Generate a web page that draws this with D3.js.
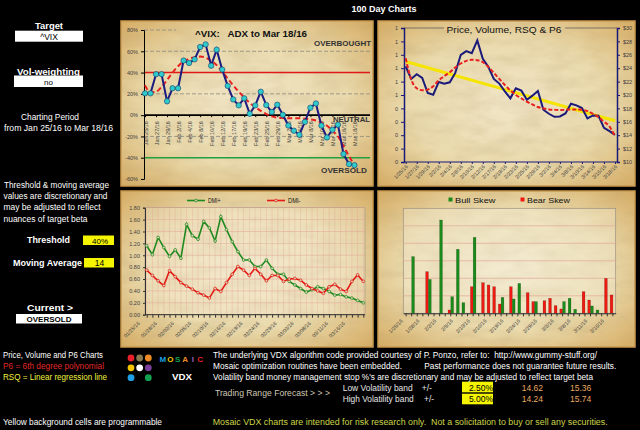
<!DOCTYPE html>
<html>
<head>
<meta charset="utf-8">
<script src="https://d3js.org/d3.v7.min.js"></script>
<style>
  body { margin: 0; background: #000; }
  svg text { font-family: "Liberation Sans", Arial, sans-serif; white-space: pre; }
</style>
</head>
<body>
<svg id="chart" width="640" height="430"></svg>
<script>
// ---- data ----
var days = ["1/25","1/26","1/27","1/28","1/29","2/1","2/2","2/3","2/4","2/5","2/8","2/9","2/10","2/11","2/12",
            "2/16","2/17","2/18","2/19","2/22","2/23","2/24","2/25","2/26","2/29","3/1","3/2","3/3","3/4",
            "3/7","3/8","3/9","3/10","3/11","3/14","3/15","3/16","3/17","3/18"];

// ADX oscillator (%) and its moving average
var adx = [20.5, 20.5, 38.5, 38.5, 13, 25.3, 25.3, 51.3, 49, 52.4, 64, 66.5, 46.5, 61.5, 42.8, 27.5, 14.8, 9.2, 15.8, 1.3,
           9.2, 22, 9.5, 3, 9.8, 0.3, -9.8, -14.6, -18.4, -6.3, 7, 11, -9.8, -21, -13.7, -9, -36.5, -46, -47];
var adxAvg = [28, 21.5, 22, 26.5, 33, 40, 46, 50.5, 53, 54.5, 55, 54, 51, 47, 41, 34.5, 28, 22, 16.5, 11.5,
              7.5, 4, 1, -1.2, -2.3, -2.8, -3, -3, -3, -3.3, -4, -5, -7, -10, -14.5, -20, -29, -38.5, -47];
var adxTicks = ["Jan 25/16","Jan 27/16","Jan 29/16","Feb 2/16","Feb 4/16","Feb 8/16","Feb 10/16","Feb 12/16","Feb 17/16","Feb 19/16",
                "Feb 23/16","Feb 25/16","Feb 29/16","Mar 2/16","Mar 4/16","Mar 8/16","Mar 10/16","Mar 14/16","Mar 16/16","Mar 18/16"];
var adxLevels = [40, 0, -40];

// price, 6th degree polynomial, regression end points
var price = [24.25, 22.4, 23.1, 22.55, 20.3, 20.05, 21.95, 21.7, 21.9, 23.3, 26, 26.55, 26.25, 28.15, 25.4, 24.2, 22.4, 21.7, 20.55, 19.5,
             21, 20.65, 19.3, 19.9, 20.6, 17.8, 17.2, 16.75, 16.8, 17.25, 18.7, 18.45, 18.05, 16.5, 16.95, 16.9, 15.1, 14.6, 14.05];
var p6 = [25.5, 22.3, 21.0, 20.7, 20.8, 21.3, 22.2, 22.8, 23.4, 24.1, 24.7, 25.1, 25.25, 25.2, 24.9, 24.2, 23.3, 22.4, 21.5, 20.7,
          20.0, 19.5, 19.0, 18.6, 18.2, 18.0, 17.85, 17.8, 17.75, 17.8, 17.85, 17.85, 17.8, 17.6, 17.2, 16.7, 16.0, 15.3, 13.8];
var rsqEnds = [25.0, 16.15];
var priceTicks = ["1/25/16","1/27/16","1/29/16","2/2/16","2/4/16","2/8/16","2/10/16","2/12/16","2/17/16","2/19/16",
                  "2/23/16","2/25/16","2/29/16","3/2/16","3/4/16","3/8/16","3/10/16","3/14/16","3/16/16","3/18/16"];

// DMI
var dmiPlus = [1.16, 1.01, 1.30, 1.13, 0.98, 1.09, 0.95, 1.52, 1.33, 1.27, 1.57, 1.46, 1.24, 1.65, 1.43, 1.23, 1.06, 0.92, 0.92, 0.81,
               0.81, 0.92, 0.78, 0.68, 0.68, 0.56, 0.50, 0.44, 0.38, 0.42, 0.47, 0.44, 0.39, 0.33, 0.34, 0.30, 0.28, 0.24, 0.20];
var dmiMinus = [0.75, 0.66, 0.57, 0.49, 0.74, 0.64, 0.54, 0.48, 0.43, 0.37, 0.33, 0.28, 0.44, 0.39, 0.54, 0.68, 0.81, 0.75, 0.66, 0.78,
                0.68, 0.57, 0.66, 0.66, 0.56, 0.60, 0.61, 0.58, 0.50, 0.44, 0.40, 0.36, 0.47, 0.51, 0.43, 0.39, 0.56, 0.67, 0.56];
var dmiTicks = ["01/25/16","01/28/16","02/02/16","02/05/16","02/10/16","02/16/16","02/19/16","02/24/16","02/29/16",
                "03/03/16","03/08/16","03/11/16","03/16/16"];

// skew bars (38 sessions)
var bullSkew = [0, 3.24, 0, 0, 1.94, 0, 5.33, 0, 0.95, 3.66, 0.61, 0, 4.34, 0, 0, 0, 0, 0.91, 0, 0.82,
                1.71, 0, 0, 0.67, 0, 0, 0, 0, 0.67, 0.86, 0.23, 0, 0, 0.42, 0.19, 0, 0, 0];
var bearSkew = [0, 0, 0, 0, 2.38, 0, 0, 0, 0.19, 0, 0, 0, 1.52, 0, 1.75, 1.62, 1.52, 0.53, 0, 1.52,
                0, 0, 1.18, 0.67, 0, 0.72, 0.86, 0.44, 0.25, 0, 0, 0, 1.24, 0.76, 0, 0, 2.0, 1.05];
var skewTicks = ["1/25/16","1/28/16","2/2/16","2/5/16","2/10/16","2/16/16","2/19/16","2/24/16","2/29/16",
                 "3/3/16","3/8/16","3/11/16","3/16/16"];

var logoCells = [[0,0,"#e8202a"],[1,0,"#8a7a50"],[2,0,"#f08a24"],[0,1,"#f5c400"],[1,1,"#ffffff"],[2,1,"#7a3f9a"],
                 [0,2,"#1ea0e6"],[2,2,"#10a050"]];
var mosaicColors = ["#1ea0e6","#f5c400","#10a050","#f08a24","#9a5fc0","#e8202a"];

// ---- drawing ----
var svg = d3.select("#chart");
var defs = svg.append("defs");

var rg = defs.append("radialGradient").attr("id", "parch").attr("r", "72%");
rg.append("stop").attr("offset", "0%").attr("stop-color", "#f1e6c8");
rg.append("stop").attr("offset", "55%").attr("stop-color", "#eadaac");
rg.append("stop").attr("offset", "100%").attr("stop-color", "#d5aa60");

var grain = defs.append("filter").attr("id", "grain").attr("x", 0).attr("y", 0).attr("width", "100%").attr("height", "100%");
grain.append("feTurbulence").attr("type", "fractalNoise").attr("baseFrequency", "0.035 0.09").attr("numOctaves", 3).attr("seed", 4);
grain.append("feColorMatrix").attr("type", "matrix")
    .attr("values", "0 0 0 0 0.5  0 0 0 0 0.36  0 0 0 0 0.16  0.45 0 0 0 -0.15");

function put(g, x, y, s, o) {
    o = o || {};
    var t = g.append("text").attr("x", x).attr("y", y).text(s)
        .attr("font-size", o.size || 8.5)
        .attr("fill", o.fill || "#fff")
        .attr("font-weight", o.bold ? "bold" : null)
        .attr("text-anchor", o.anchor || "start");
    if (o.len) t.attr("textLength", o.len).attr("lengthAdjust", "spacingAndGlyphs");
    return t;
}

function styleAxis(g, col, size) {
    g.selectAll(".domain").attr("stroke", col);
    g.selectAll(".tick line").attr("stroke", col);
    g.selectAll(".tick text").attr("fill", "#404040").attr("font-size", size)
        .attr("font-family", "Liberation Sans, Arial, sans-serif");
}

// panels
var panels = [[121, 21, 252, 165], [378, 21, 257, 165], [121, 191, 252, 156], [378, 191, 257, 156]];
panels.forEach(function(p) {
    svg.append("rect").attr("x", p[0]).attr("y", p[1]).attr("width", p[2]).attr("height", p[3])
        .attr("fill", "url(#parch)").attr("stroke", "#c9994c").attr("stroke-width", 1.5);
    svg.append("rect").attr("x", p[0]).attr("y", p[1]).attr("width", p[2]).attr("height", p[3])
        .attr("fill", "#000").attr("filter", "url(#grain)");
});

put(svg, 384, 12, "100 Day Charts", {bold: true, size: 9, anchor: "middle"});

// ===== ADX chart =====
var xA = d3.scalePoint().domain(d3.range(days.length)).range([145, 354.5]);
var yA = d3.scaleLinear().domain([-60, 80]).range([179, 30]);
var gA = svg.append("g");

gA.selectAll("line.grid").data([80, 60, 20, -20]).join("line")
    .attr("x1", 144).attr("x2", function(d) { return d === 80 ? 176 : 370; })
    .attr("y1", yA).attr("y2", yA)
    .attr("stroke", "#8a8a80").attr("stroke-width", 0.8).attr("stroke-dasharray", "4,2");

gA.selectAll("line.level").data(adxLevels).join("line")
    .attr("x1", 144).attr("x2", 370).attr("y1", yA).attr("y2", yA)
    .attr("stroke", function(d) { return d > 0 ? "#e01818" : d < 0 ? "#20a040" : "#000"; })
    .attr("stroke-width", 1.6);

var yAxisA = gA.append("g").attr("transform", "translate(144,0)")
    .call(d3.axisLeft(yA).tickValues(d3.range(-60, 81, 20)).tickSize(3).tickFormat(function(d) { return d + "%"; }));
styleAxis(yAxisA, "#000", 5.5);

var xAxisA = gA.append("g").attr("transform", "translate(0," + yA(0) + ")")
    .call(d3.axisBottom(xA).tickValues(d3.range(0, days.length, 2)).tickSize(2).tickSizeOuter(0)
        .tickFormat(function(d) { return adxTicks[d / 2]; }));
xAxisA.select(".domain").remove();
styleAxis(xAxisA, "#000", 5.5);
xAxisA.selectAll(".tick text").attr("x", 0).attr("y", 0).attr("dy", 0)
    .attr("text-anchor", "end").attr("transform", "translate(2,6) rotate(-90)");

gA.append("path").datum(adxAvg)
    .attr("d", d3.line().curve(d3.curveMonotoneX).x(function(d, i) { return xA(i); }).y(yA))
    .attr("fill", "none").attr("stroke", "#e82020").attr("stroke-width", 2).attr("stroke-dasharray", "5,3");
gA.append("path").datum(adx)
    .attr("d", d3.line().x(function(d, i) { return xA(i); }).y(yA))
    .attr("fill", "none").attr("stroke", "#1c1c80").attr("stroke-width", 2);
gA.selectAll("circle").data(adx).join("circle")
    .attr("cx", function(d, i) { return xA(i); }).attr("cy", yA).attr("r", 2.7)
    .attr("fill", "#2fcaca").attr("stroke", "#1a3a6a").attr("stroke-width", 0.6);

put(gA, 251, 37, "^VIX:   ADX to Mar 18/16", {bold: true, size: 9, fill: "#111", anchor: "middle", len: 112});
put(gA, 371, 46, "OVERBOUGHT", {bold: true, size: 7.5, fill: "#333", anchor: "end", len: 57});
put(gA, 370, 121.5, "NEUTRAL", {bold: true, size: 7.5, fill: "#333", anchor: "end", len: 37});
put(gA, 367, 173, "OVERSOLD", {bold: true, size: 7.5, fill: "#333", anchor: "end", len: 46});

// ===== Price chart =====
var xP = d3.scalePoint().domain(d3.range(days.length)).range([405.7, 615]);
var yP = d3.scaleLinear().domain([10, 30]).range([162, 28]);
var yV = d3.scaleLinear().domain([0, 1]).range([162, 28]);
var gP = svg.append("g");

gP.append("line").attr("x1", 404).attr("x2", 444).attr("y1", 28).attr("y2", 28).attr("stroke", "#555").attr("stroke-width", 0.7);
gP.append("line").attr("x1", 565).attr("x2", 617).attr("y1", 28).attr("y2", 28).attr("stroke", "#555").attr("stroke-width", 0.7);

var lAxP = gP.append("g").attr("transform", "translate(404,0)")
    .call(d3.axisLeft(yV).ticks(10).tickSize(3).tickFormat(function(d) { return Math.round(d); }));
styleAxis(lAxP, "#1a1a7a", 5.5);
lAxP.select(".domain").attr("stroke-width", 1.5);
var rAxP = gP.append("g").attr("transform", "translate(617,0)")
    .call(d3.axisRight(yP).tickValues(d3.range(10, 31, 2)).tickSize(3).tickFormat(function(d) { return "$" + d; }));
styleAxis(rAxP, "#1a1a7a", 5.5);
rAxP.select(".domain").attr("stroke-width", 1.5);

gP.append("line").attr("x1", 404).attr("x2", 617).attr("y1", 162).attr("y2", 162).attr("stroke", "#1a1a7a").attr("stroke-width", 1.2);
var xAxP = gP.append("g").attr("transform", "translate(0,162)")
    .call(d3.axisBottom(xP).tickValues(d3.range(0, days.length, 2)).tickSize(2).tickSizeOuter(0)
        .tickFormat(function(d) { return priceTicks[d / 2]; }));
xAxP.select(".domain").remove();
styleAxis(xAxP, "#1a1a7a", 5.2);
xAxP.selectAll(".tick text").attr("x", 0).attr("y", 0).attr("dy", 0)
    .attr("text-anchor", "end").attr("transform", "translate(2,5) rotate(-45)");

gP.append("path").datum(rsqEnds)
    .attr("d", d3.line().x(function(d, i) { return xP(i * (days.length - 1)); }).y(yP))
    .attr("fill", "none").attr("stroke", "#f5e400").attr("stroke-width", 3);
gP.append("path").datum(price)
    .attr("d", d3.line().x(function(d, i) { return xP(i); }).y(yP))
    .attr("fill", "none").attr("stroke", "#1a1a7a").attr("stroke-width", 2);
gP.append("path").datum(p6)
    .attr("d", d3.line().curve(d3.curveMonotoneX).x(function(d, i) { return xP(i); }).y(yP))
    .attr("fill", "none").attr("stroke", "#e82020").attr("stroke-width", 2).attr("stroke-dasharray", "4,2");

put(gP, 504, 32.5, "Price, Volume, RSQ & P6", {size: 9, fill: "#111", anchor: "middle", len: 115});

// ===== DMI chart =====
var xD = d3.scalePoint().domain(d3.range(days.length)).range([146.7, 363.3]);
var yD = d3.scaleLinear().domain([0, 1.8]).range([314.7, 207.7]);
var gD = svg.append("g");

gD.append("rect").attr("x", 145).attr("y", 207.7).attr("width", 220).attr("height", 107)
    .attr("fill", "rgba(250,244,228,0.25)").attr("stroke", "#9a8f80").attr("stroke-width", 0.6);
gD.selectAll("line.vg").data(d3.range(days.length)).join("line")
    .attr("x1", xD).attr("x2", xD).attr("y1", 207.7).attr("y2", 314.7)
    .attr("stroke", "#e2a898").attr("stroke-width", 0.5).attr("opacity", 0.8);
gD.selectAll("line.hg").data(d3.range(1, 10).map(function(i) { return i * 0.2; })).join("line")
    .attr("x1", 145).attr("x2", 365).attr("y1", yD).attr("y2", yD)
    .attr("stroke", "#e2a898").attr("stroke-width", 0.6).attr("opacity", 0.9);

var yAxD = gD.append("g").attr("transform", "translate(145,0)")
    .call(d3.axisLeft(yD).tickValues(d3.range(10).map(function(i) { return i * 0.2; })).tickSize(2)
        .tickFormat(d3.format(".2f")));
styleAxis(yAxD, "#333", 5.5);
var xAxD = gD.append("g").attr("transform", "translate(0,314.7)")
    .call(d3.axisBottom(xD).tickValues(d3.range(days.length)).tickSize(3).tickSizeOuter(0)
        .tickFormat(function(d) { return d % 3 === 0 ? dmiTicks[d / 3] : ""; }));
xAxD.select(".domain").attr("d", "M145,0H365");
styleAxis(xAxD, "#333", 5.2);
xAxD.selectAll(".tick text").attr("x", 0).attr("y", 0).attr("dy", 0)
    .attr("text-anchor", "end").attr("transform", "translate(-7,9) rotate(-45)");

var dmiSeries = [{v: dmiPlus, c: "#1f8a1f"}, {v: dmiMinus, c: "#e41a14"}];
dmiSeries.forEach(function(s) {
    gD.append("path").datum(s.v)
        .attr("d", d3.line().x(function(d, i) { return xD(i); }).y(yD))
        .attr("fill", "none").attr("stroke", s.c).attr("stroke-width", 1.6);
    gD.append("g").selectAll("circle").data(s.v).join("circle")
        .attr("cx", function(d, i) { return xD(i); }).attr("cy", yD).attr("r", 1.4)
        .attr("fill", "#d9d0b0").attr("stroke", s.c).attr("stroke-width", 0.7);
});
// legend
[{x: 187, c: "#1f8a1f", t: "DMI+"}, {x: 267, c: "#e41a14", t: "DMI-"}].forEach(function(l) {
    gD.append("line").attr("x1", l.x).attr("x2", l.x + 18).attr("y1", 200.5).attr("y2", 200.5)
        .attr("stroke", l.c).attr("stroke-width", 1.6);
    gD.append("circle").attr("cx", l.x + 9).attr("cy", 200.5).attr("r", 1.4)
        .attr("fill", "#d9d0b0").attr("stroke", l.c).attr("stroke-width", 0.7);
    put(gD, l.x + 21, 203.3, l.t, {size: 7.5, fill: "#111", len: 12.5});
});

// ===== Skew bars =====
var xB = d3.scaleBand().domain(d3.range(bullSkew.length)).range([403.3, 615.7]).padding(0);
var xSub = d3.scaleBand().domain(["bear", "bull"]).range([0, xB.bandwidth()]).padding(0);
var yB = d3.scaleLinear().domain([0, 6]).range([313.3, 208.3]);
var gB = svg.append("g");

gB.append("rect").attr("x", 403.3).attr("y", 208.3).attr("width", 212.4).attr("height", 105)
    .attr("fill", "rgba(250,244,228,0.3)").attr("stroke", "#9a9080").attr("stroke-width", 0.7);
gB.selectAll("line.hg").data(d3.range(1, 6)).join("line")
    .attr("x1", 403.3).attr("x2", 615.7).attr("y1", yB).attr("y2", yB)
    .attr("stroke", "#e2a898").attr("stroke-width", 0.7);

var skewRows = bullSkew.map(function(b, i) { return {i: i, bull: b, bear: bearSkew[i]}; });
var skewCols = {bear: "#ee1a12", bull: "#1a8a1a"};
["bear", "bull"].forEach(function(k) {
    gB.append("g").selectAll("rect").data(skewRows.filter(function(r) { return r[k] > 0; })).join("rect")
        .attr("x", function(r) { return xB(r.i) + xSub(k); })
        .attr("width", xSub.bandwidth())
        .attr("y", function(r) { return yB(r[k]); })
        .attr("height", function(r) { return yB(0) - yB(r[k]); })
        .attr("fill", skewCols[k]).attr("stroke", "rgba(0,0,0,0.35)").attr("stroke-width", 0.4);
});

var xAxB = gB.append("g").attr("transform", "translate(0,313.3)")
    .call(d3.axisBottom(xB).tickSize(3).tickSizeOuter(0)
        .tickFormat(function(d) { return d % 3 === 0 ? skewTicks[d / 3] : ""; }));
styleAxis(xAxB, "#333", 5.2);
xAxB.selectAll(".tick text").attr("x", 0).attr("y", 0).attr("dy", 0)
    .attr("text-anchor", "end").attr("transform", "translate(-3,8) rotate(-45)");

[{x: 448.5, c: "#1a8a1a", t: "Bull Skew", w: 40.5}, {x: 520.5, c: "#ee1a12", t: "Bear Skew", w: 43}].forEach(function(l) {
    gB.append("rect").attr("x", l.x).attr("y", 197.5).attr("width", 4).attr("height", 4).attr("fill", l.c);
    put(gB, l.x + 6.5, 203, l.t, {size: 7.5, fill: "#111", len: l.w});
});

// ===== left sidebar =====
var side = svg.append("g");
put(side, 49, 28.5, "Target", {bold: true, size: 9, anchor: "middle", len: 28});
side.append("rect").attr("x", 15).attr("y", 30.7).attr("width", 68).attr("height", 11).attr("fill", "#fff");
put(side, 49, 39.5, "^VIX", {size: 8.5, fill: "#000", anchor: "middle"});
put(side, 48.5, 74.5, "Vol-weighting", {bold: true, size: 9, anchor: "middle", len: 63});
side.append("rect").attr("x", 14).attr("y", 75.5).attr("width", 69).attr("height", 11.5).attr("fill", "#fff");
put(side, 48.5, 84.5, "no", {size: 8, fill: "#000", anchor: "middle"});
put(side, 21, 119.5, "Charting Period", {size: 8.5, len: 58});
put(side, 4, 130.5, "from Jan 25/16 to Mar 18/16", {size: 8.5, len: 109});
put(side, 4, 187.5, "Threshold & moving average", {size: 8.5, len: 105});
put(side, 3.5, 198.8, "values are discretionary and", {size: 8.5, len: 104});
put(side, 3.5, 210.3, "may be adjusted to reflect", {size: 8.5, len: 97});
put(side, 3.5, 221.8, "nuances of target beta", {size: 8.5, len: 84});
put(side, 27, 243, "Threshold", {bold: true, size: 9, len: 43});
side.append("rect").attr("x", 83).attr("y", 235.5).attr("width", 31).attr("height", 9.5).attr("fill", "#f5f500");
put(side, 100, 243.5, "40%", {size: 8, fill: "#000", anchor: "middle"});
put(side, 13, 265.5, "Moving Average", {bold: true, size: 9, len: 69});
side.append("rect").attr("x", 84).attr("y", 258).attr("width", 30).attr("height", 9.5).attr("fill", "#f5f500");
put(side, 99.5, 266, "14", {size: 8.5, fill: "#000", anchor: "middle"});
put(side, 27, 310.5, "Current >", {bold: true, size: 9.5, len: 46});
side.append("rect").attr("x", 16).attr("y", 314).attr("width", 66).attr("height", 9.5).attr("fill", "#fff");
put(side, 49, 322, "OVERSOLD", {bold: true, size: 8, fill: "#000", anchor: "middle", len: 45});

// ===== bottom text =====
var foot = svg.append("g");
put(foot, 3, 357.5, "Price, Volume and P6 Charts", {len: 100});
put(foot, 3, 368.5, "P6 = 6th degree polynomial", {fill: "#e0282a", len: 101});
put(foot, 3, 379.5, "RSQ = Linear regression line", {fill: "#f0f040", len: 104});
put(foot, 3, 424.5, "Yellow background cells are programmable", {len: 159});

var lgx = d3.scaleLinear().domain([0, 2]).range([131, 148.3]);
var lgy = d3.scaleLinear().domain([0, 2]).range([358, 377.7]);
foot.selectAll("circle.logo").data(logoCells).join("circle")
    .attr("cx", function(d) { return lgx(d[0]); }).attr("cy", function(d) { return lgy(d[1]); })
    .attr("r", 3.4).attr("fill", function(d) { return d[2]; });
var mx = d3.scaleBand().domain(d3.range(6)).range([159, 204]);
foot.selectAll("text.mos").data("MOSAIC".split("")).join("text")
    .attr("x", function(d, i) { return mx(i) + mx.bandwidth() / 2; }).attr("y", 361.5)
    .attr("text-anchor", "middle").attr("font-size", 8).attr("font-weight", "bold")
    .attr("fill", function(d, i) { return mosaicColors[i]; }).text(function(d) { return d; });
put(foot, 182, 380, "VDX", {bold: true, size: 8.5, anchor: "middle", len: 20});

put(foot, 213, 357.5, "The underlying VDX algorithm code provided courtesy of P. Ponzo, refer to:  http://www.gummy-stuff.org/", {len: 384});
put(foot, 213, 368.5, "Mosaic optimization routines have been embedded.", {len: 189});
put(foot, 424.3, 368.5, "Past performance does not guarantee future results.", {len: 192});
put(foot, 213, 379.5, "Volatility band money management stop %'s are discretionary and may be adjusted to reflect target beta", {len: 380});
put(foot, 215, 396, "Trading Range Forecast > > >", {size: 9, fill: "#cfc7b5", len: 115});
put(foot, 342.7, 390.5, "Low Volatility band", {fill: "#e6e6e6", len: 70});
put(foot, 421.7, 390.5, "+/-", {fill: "#e6e6e6"});
put(foot, 342.7, 401.8, "High Volatility band", {fill: "#e6e6e6", len: 71});
put(foot, 424, 401.8, "+/-", {fill: "#e6e6e6"});
foot.append("rect").attr("x", 462).attr("y", 381.7).attr("width", 31).attr("height", 10.6).attr("fill", "#f5f500");
foot.append("rect").attr("x", 462).attr("y", 393.7).attr("width", 31).attr("height", 10.6).attr("fill", "#f5f500");
put(foot, 493, 390.5, "2.50%", {fill: "#000", anchor: "end"});
put(foot, 493, 402, "5.00%", {fill: "#000", anchor: "end"});
put(foot, 521.7, 390.5, "14.62", {fill: "#e8a862"});
put(foot, 570, 390.5, "15.36", {fill: "#e8a862"});
put(foot, 521.7, 401.8, "14.24", {fill: "#e8a862"});
put(foot, 570, 401.8, "15.74", {fill: "#e8a862"});
put(foot, 212.7, 424.5, "Mosaic VDX charts are intended for risk research only.  Not a solicitation to buy or sell any securities.", {fill: "#cdd648", len: 395});
</script>
</body>
</html>
